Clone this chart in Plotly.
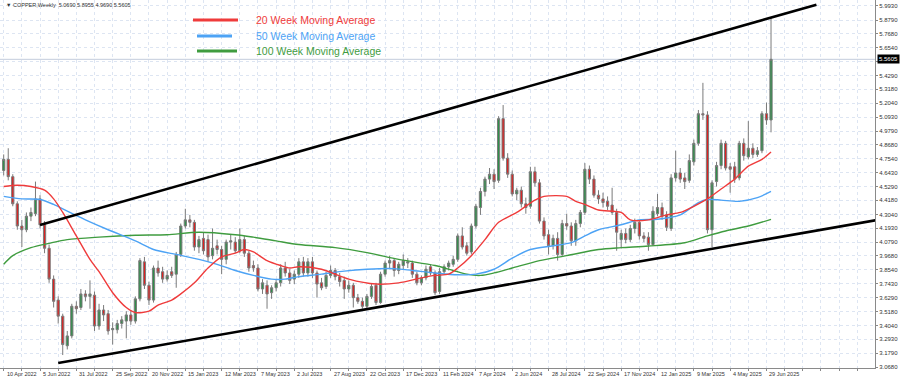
import plotly.graph_objects as go
import pandas as pd

# ---------------- data ----------------
first_week = "2022-04-10"   # weekly bars, one per week from this date

opens = [4.66, 4.75, 4.61, 4.39, 4.21, 4.18, 4.29, 4.31, 4.43, 4.22,
         4.03, 3.78, 3.61, 3.48, 3.24, 3.32, 3.56, 3.55, 3.66, 3.64,
         3.65, 3.40, 3.53, 3.50, 3.37, 3.37, 3.42, 3.44, 3.49, 3.44,
         3.62, 3.92, 3.73, 3.61, 3.87, 3.84, 3.78, 3.84, 3.82, 3.98,
         4.21, 4.26, 4.24, 4.04, 4.11, 4.10, 3.97, 4.05, 4.02, 3.94,
         4.08, 4.08, 4.01, 4.10, 3.99, 3.89, 3.87, 3.70, 3.73, 3.67,
         3.71, 3.75, 3.87, 3.83, 3.78, 3.82, 3.92, 3.83, 3.92, 3.83,
         3.75, 3.72, 3.81, 3.85, 3.80, 3.77, 3.70, 3.73, 3.63, 3.60,
         3.56, 3.64, 3.73, 3.59, 3.82, 3.91, 3.93, 3.85, 3.89, 3.91,
         3.91, 3.82, 3.75, 3.79, 3.88, 3.83, 3.68, 3.84, 3.88, 3.90,
         3.94, 4.13, 4.05, 4.00, 4.21, 4.36, 4.49, 4.59, 4.63, 4.58,
         5.08, 4.76, 4.63, 4.47, 4.50, 4.39, 4.37, 4.65, 4.56, 4.25,
         4.14, 4.05, 4.11, 3.98, 4.23, 4.21, 4.09, 4.23, 4.32, 4.67,
         4.59, 4.46, 4.43, 4.41, 4.38, 4.32, 4.10, 4.15, 4.10, 4.19,
         4.24, 4.13, 4.12, 4.06, 4.31, 4.36, 4.30, 4.19, 4.60, 4.64,
         4.60, 4.58, 4.73, 4.88, 5.12, 5.11, 4.18, 4.57, 4.70, 4.88,
         4.69, 4.69, 4.60, 4.88, 4.77, 4.84, 4.79, 4.82, 5.12, 5.069]

highs = [4.79, 4.84, 4.63, 4.41, 4.26, 4.32, 4.36, 4.57, 4.46, 4.25,
         4.06, 3.81, 3.64, 3.50, 3.36, 3.58, 3.60, 3.70, 3.69, 3.77,
         3.68, 3.58, 3.57, 3.53, 3.43, 3.45, 3.48, 3.52, 3.53, 3.64,
         3.95, 3.96, 3.76, 3.89, 3.93, 3.88, 3.85, 3.88, 4.00, 4.23,
         4.35, 4.30, 4.26, 4.13, 4.16, 4.14, 4.19, 4.10, 4.05, 4.10,
         4.14, 4.12, 4.19, 4.13, 4.01, 3.93, 3.90, 3.78, 3.77, 3.73,
         3.78, 3.90, 3.92, 3.86, 3.85, 3.95, 3.96, 3.95, 3.96, 3.85,
         3.79, 3.84, 3.89, 3.87, 3.83, 3.80, 3.77, 3.75, 3.66, 3.63,
         3.66, 3.74, 3.75, 3.84, 3.93, 3.97, 3.95, 3.92, 3.98, 3.95,
         3.93, 3.84, 3.81, 3.89, 3.90, 3.85, 3.87, 3.90, 3.93, 3.97,
         4.15, 4.20, 4.08, 4.23, 4.39, 4.52, 4.61, 4.68, 4.67, 5.10,
         5.19, 4.80, 4.66, 4.52, 4.53, 4.44, 4.69, 4.69, 4.59, 4.28,
         4.18, 4.14, 4.16, 4.26, 4.31, 4.24, 4.26, 4.34, 4.72, 4.70,
         4.62, 4.50, 4.48, 4.45, 4.52, 4.35, 4.18, 4.19, 4.22, 4.27,
         4.26, 4.16, 4.16, 4.37, 4.47, 4.40, 4.33, 4.63, 4.82, 4.68,
         4.64, 4.79, 4.91, 5.15, 5.37, 5.14, 4.58, 4.73, 4.91, 4.90,
         4.72, 4.73, 4.90, 4.92, 5.06, 4.88, 4.85, 5.14, 5.21, 5.8955]

lows = [4.62, 4.58, 4.37, 4.18, 4.04, 4.16, 4.25, 4.29, 4.19, 3.99,
        3.75, 3.55, 3.42, 3.165, 3.21, 3.30, 3.50, 3.53, 3.60, 3.54,
        3.36, 3.37, 3.44, 3.33, 3.25, 3.34, 3.38, 3.30, 3.41, 3.42,
        3.60, 3.70, 3.57, 3.59, 3.80, 3.75, 3.76, 3.79, 3.71, 3.96,
        4.19, 4.20, 4.01, 3.99, 3.98, 3.92, 3.94, 3.98, 3.82, 3.90,
        4.02, 3.99, 3.99, 3.96, 3.84, 3.84, 3.68, 3.66, 3.54, 3.62,
        3.68, 3.72, 3.80, 3.74, 3.74, 3.79, 3.80, 3.80, 3.79, 3.63,
        3.69, 3.70, 3.79, 3.77, 3.72, 3.62, 3.67, 3.55, 3.58, 3.54,
        3.54, 3.62, 3.57, 3.58, 3.80, 3.86, 3.80, 3.82, 3.86, 3.87,
        3.79, 3.73, 3.73, 3.77, 3.81, 3.65, 3.66, 3.82, 3.85, 3.88,
        3.92, 4.02, 3.97, 3.98, 4.19, 4.30, 4.45, 4.55, 4.51, 4.56,
        4.74, 4.60, 4.45, 4.42, 4.36, 4.31, 4.35, 4.53, 4.23, 4.10,
        3.98, 4.02, 3.93, 3.96, 4.18, 4.05, 4.05, 4.20, 4.30, 4.55,
        4.44, 4.39, 4.36, 4.34, 4.30, 4.01, 4.03, 4.07, 4.08, 4.15,
        4.10, 4.08, 4.01, 4.05, 4.29, 4.26, 4.17, 4.17, 4.57, 4.56,
        4.51, 4.56, 4.70, 4.86, 5.07, 4.15, 4.04, 4.53, 4.67, 4.66,
        4.48, 4.56, 4.58, 4.74, 4.75, 4.76, 4.77, 4.80, 5.03, 4.969]

closes = [4.75, 4.61, 4.39, 4.21, 4.18, 4.29, 4.32, 4.43, 4.22, 4.03,
          3.78, 3.60, 3.48, 3.25, 3.32, 3.56, 3.54, 3.66, 3.64, 3.66,
          3.40, 3.53, 3.49, 3.36, 3.38, 3.42, 3.45, 3.49, 3.44, 3.62,
          3.93, 3.73, 3.61, 3.87, 3.83, 3.78, 3.81, 3.81, 3.98, 4.21,
          4.26, 4.24, 4.04, 4.10, 4.01, 3.96, 4.03, 4.02, 3.94, 4.08,
          4.09, 4.01, 4.10, 3.99, 3.87, 3.87, 3.70, 3.75, 3.66, 3.71,
          3.75, 3.87, 3.83, 3.77, 3.82, 3.92, 3.83, 3.92, 3.83, 3.74,
          3.71, 3.81, 3.85, 3.80, 3.76, 3.70, 3.73, 3.63, 3.60, 3.56,
          3.64, 3.72, 3.59, 3.82, 3.91, 3.93, 3.85, 3.90, 3.93, 3.92,
          3.82, 3.75, 3.79, 3.86, 3.83, 3.67, 3.84, 3.88, 3.91, 3.94,
          4.13, 4.04, 3.99, 4.21, 4.37, 4.49, 4.59, 4.63, 4.57, 5.08,
          4.76, 4.63, 4.47, 4.50, 4.39, 4.36, 4.65, 4.56, 4.25, 4.13,
          4.05, 4.11, 3.98, 4.23, 4.21, 4.09, 4.23, 4.32, 4.67, 4.59,
          4.46, 4.43, 4.40, 4.37, 4.32, 4.16, 4.15, 4.10, 4.19, 4.24,
          4.13, 4.11, 4.06, 4.33, 4.36, 4.29, 4.20, 4.60, 4.64, 4.59,
          4.57, 4.74, 4.88, 5.12, 5.11, 4.18, 4.56, 4.70, 4.88, 4.68,
          4.67, 4.59, 4.88, 4.78, 4.84, 4.79, 4.82, 5.12, 5.069, 5.5605]

# moving averages (week index -> value)
ma20_idx = [0, 3, 6, 9, 11, 13, 16, 19, 21, 24, 27, 29, 32, 34, 37, 39, 42, 45, 48, 51,
            53, 55, 58, 61, 63, 65, 70, 76, 82, 87, 92, 95, 98, 100, 103, 106, 109, 113,
            117, 119, 124, 126, 128, 131, 136, 138, 142, 146, 149, 152, 155, 158, 161,
            164, 167, 169]
ma20_val = [4.53, 4.54, 4.53, 4.50, 4.43, 4.32, 4.13, 3.94, 3.84, 3.67, 3.55, 3.51, 3.52,
            3.57, 3.61, 3.66, 3.75, 3.87, 3.96, 3.99, 4.02, 4.00, 3.93, 3.89, 3.87, 3.88,
            3.86, 3.78, 3.74, 3.75, 3.79, 3.81, 3.82, 3.87, 3.97, 4.10, 4.24, 4.32, 4.42,
            4.45, 4.45, 4.41, 4.385, 4.34, 4.32, 4.26, 4.26, 4.30, 4.32, 4.37, 4.43, 4.51,
            4.59, 4.695, 4.75, 4.81]

ma50_idx = [0, 4, 8, 11, 14, 18, 23, 29, 33, 38, 43, 47, 51, 55, 59, 62, 65, 70, 75, 80,
            86, 90, 95, 100, 104, 108, 112, 116, 121, 125, 128, 131, 136, 140, 144, 149,
            153, 155, 158, 162, 166, 169]
ma50_val = [4.45, 4.43, 4.425, 4.385, 4.33, 4.26, 4.18, 4.09, 4.02, 3.98, 3.94, 3.90, 3.85,
            3.81, 3.78, 3.78, 3.80, 3.82, 3.845, 3.86, 3.865, 3.85, 3.83, 3.815, 3.82, 3.86,
            3.95, 4.02, 4.05, 4.075, 4.13, 4.18, 4.22, 4.26, 4.265, 4.30, 4.40, 4.425, 4.42,
            4.41, 4.44, 4.49]

ma100_idx = [0, 2, 6, 10, 14, 21, 29, 36, 43, 51, 55, 60, 65, 73, 80, 87, 95, 99, 102, 105,
             108, 112, 118, 124, 131, 136, 142, 150, 155, 159, 164, 169]
ma100_val = [3.90, 3.97, 4.035, 4.07, 4.10, 4.12, 4.135, 4.14, 4.16, 4.14, 4.12, 4.09, 4.06,
             4.035, 3.995, 3.94, 3.89, 3.85, 3.82, 3.81, 3.83, 3.87, 3.93, 3.97, 4.02, 4.035,
             4.048, 4.075, 4.13, 4.17, 4.21, 4.264]

# channel lines (week index -> price)
upper_idx = [8, 179]
upper_val = [4.218, 6.003]
lower_idx = [12, 192]
lower_val = [3.10, 4.257]

ytick_labels = ["3.0680", "3.1790", "3.2930", "3.4040", "3.5180", "3.6290", "3.7430",
                "3.8540", "3.9680", "4.0790", "4.1930", "4.3040", "4.4180", "4.5290",
                "4.6430", "4.7540", "4.8680", "4.9790", "5.0930", "5.2040", "5.3180",
                "5.4290", "5.5430", "5.6540", "5.7680", "5.8790", "5.9930"]

xtick_labels = ["10 Apr 2022", "5 Jun 2022", "31 Jul 2022", "25 Sep 2022", "20 Nov 2022",
                "15 Jan 2023", "12 Mar 2023", "7 May 2023", "2 Jul 2023", "27 Aug 2023",
                "22 Oct 2023", "17 Dec 2023", "11 Feb 2024", "7 Apr 2024", "2 Jun 2024",
                "28 Jul 2024", "22 Sep 2024", "17 Nov 2024", "12 Jan 2025", "9 Mar 2025",
                "4 May 2025", "29 Jun 2025"]

legend_names = ["20 Week Moving Average", "50 Week Moving Average", "100 Week Moving Average"]

# ---------------- figure ----------------
t0 = pd.Timestamp(first_week)


def wk(i):
    return t0 + pd.Timedelta(days=7 * i)


dates = [wk(i) for i in range(len(closes))]

RED = "#ef3b3b"
BLUE = "#4da3f5"
GREEN = "#3f9c3f"

fig = go.Figure()

fig.add_trace(go.Candlestick(
    x=dates, open=opens, high=highs, low=lows, close=closes,
    increasing=dict(line=dict(color="#7a7a7a", width=1), fillcolor="#2f8f4a"),
    decreasing=dict(line=dict(color="#7a7a7a", width=1), fillcolor="#dc2222"),
    whiskerwidth=0, hoverinfo="skip", showlegend=False,
))

for idx, val, col in [(ma100_idx, ma100_val, GREEN), (ma50_idx, ma50_val, BLUE),
                      (ma20_idx, ma20_val, RED)]:
    fig.add_trace(go.Scatter(x=[wk(i) for i in idx], y=val, mode="lines",
                             line=dict(color=col, width=1.4, shape="spline", smoothing=0.8),
                             hoverinfo="skip", showlegend=False))

for idx, val in [(upper_idx, upper_val), (lower_idx, lower_val)]:
    fig.add_trace(go.Scatter(x=[wk(i) for i in idx], y=val, mode="lines",
                             line=dict(color="black", width=2.6),
                             hoverinfo="skip", showlegend=False))

# plot geometry (pixels)
PW, PH = 875, 368


def px(x):
    return x / PW


def py(y):
    return 1 - y / PH


shapes = []
# last-price line
shapes.append(dict(type="line", xref="paper", yref="y", x0=0, x1=1,
                   y0=closes[-1], y1=closes[-1], line=dict(color="#c3ccdc", width=1),
                   layer="below"))
# legend lines
leg_rows = [(193, 238, 20, RED), (197, 232, 36, BLUE), (197, 237, 51, GREEN)]
annotations = []
for (xa, xb, yy, col), name in zip(leg_rows, legend_names):
    shapes.append(dict(type="line", xref="paper", yref="paper", x0=px(xa), x1=px(xb),
                       y0=py(yy), y1=py(yy), line=dict(color=col, width=3)))
    annotations.append(dict(xref="paper", yref="paper", x=px(254), y=py(yy),
                            xanchor="left", yanchor="middle", showarrow=False,
                            text=name, font=dict(size=10.5, color=col,
                                                 family="Liberation Sans, Arial")))

# header text
annotations.append(dict(xref="paper", yref="paper", x=px(4), y=py(5), xanchor="left",
                        yanchor="middle", showarrow=False,
                        text="\u25BC COPPER,Weekly  %.4f %.4f %.4f %.4f" % (
                            opens[-1], highs[-1], lows[-1], closes[-1]),
                        font=dict(size=5.5, color="#333333")))
# last-price box (covers the grid label it sits on, as in the terminal)
annotations.append(dict(xref="paper", yref="y", x=1, y=closes[-1], xanchor="left",
                        yanchor="middle", xshift=2, showarrow=False,
                        text="%.4f" % closes[-1], bgcolor="black", borderpad=1,
                        font=dict(size=6, color="white")))

yt_vals = [float(v) for v in ytick_labels]
yt_text = [("" if abs(v - closes[-1]) < 0.04 else s) for v, s in zip(yt_vals, ytick_labels)]

# time-scale labels, left-aligned at their bar as in the terminal
for k, lab in enumerate(xtick_labels):
    annotations.append(dict(xref="x", yref="paper", x=wk(8 * k), y=0, xanchor="left",
                            yanchor="top", xshift=1, yshift=-1, showarrow=False,
                            text=lab, font=dict(size=5.5, color="#333333")))

xt_vals = [wk(i) for i in range(0, 189, 4)]

fig.update_layout(
    width=900, height=379,
    margin=dict(l=0, r=25, t=0, b=11, autoexpand=False),
    paper_bgcolor="white", plot_bgcolor="white",
    showlegend=False,
    font=dict(family="Liberation Sans, Arial", size=6, color="#333333"),
    shapes=shapes, annotations=annotations,
    xaxis=dict(
        type="date", rangeslider=dict(visible=False),
        range=[wk(-0.815), wk(191.9)],
        tickmode="array", tickvals=xt_vals, showticklabels=False,
        ticks="outside", ticklen=2, tickcolor="#888888",
        showgrid=True, gridcolor="#dde5f2", griddash="dot", gridwidth=1,
        showline=True, linecolor="#8a8a8a", linewidth=1, mirror=True,
        zeroline=False, automargin=False,
    ),
    yaxis=dict(
        side="right", range=[3.060, 6.041],
        tickmode="array", tickvals=yt_vals, ticktext=yt_text,
        ticklabeloverflow="allow",
        tickfont=dict(size=6, color="#333333"),
        ticks="outside", ticklen=2, tickcolor="#888888",
        showgrid=True, gridcolor="#dde5f2", griddash="dot", gridwidth=1,
        showline=True, linecolor="#8a8a8a", linewidth=1, mirror=True,
        zeroline=False, automargin=False,
    ),
)

fig.write_html("out.html", config={"displayModeBar": False},
               post_script="document.body.style.margin='0';"
                           "document.body.style.overflow='hidden';")
